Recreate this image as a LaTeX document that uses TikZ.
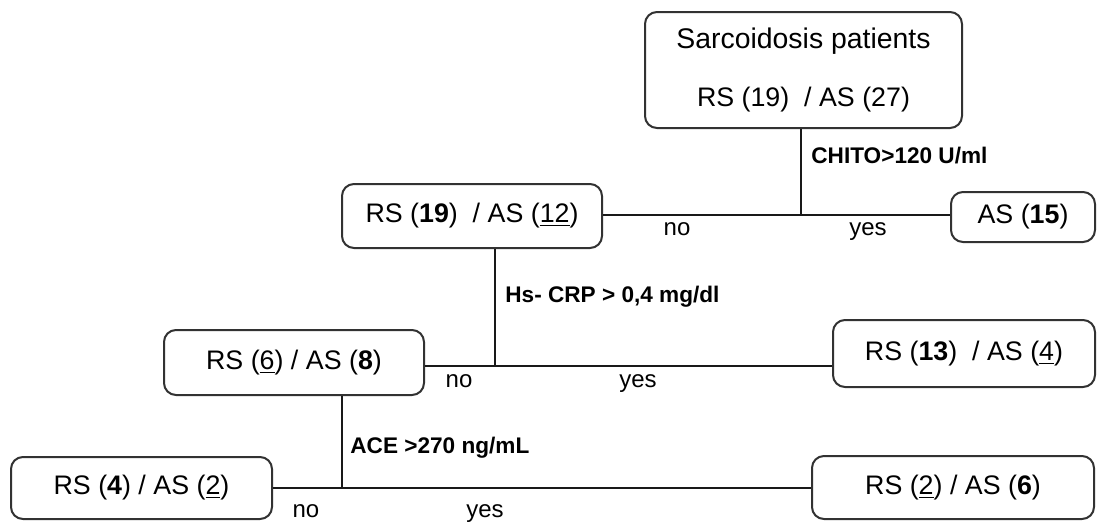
\documentclass[tikz,border=0pt]{standalone}
\usepackage{fontspec}
\setmainfont{Liberation Sans}
\usepackage{tikz}
\usetikzlibrary{positioning, calc}
\definecolor{mydark}{RGB}{50,50,50}
\definecolor{myline}{RGB}{25,25,25}
\tikzset{
  box/.style={rectangle, draw=mydark, fill=white, align=center,
    rounded corners=6pt, line width=1pt, inner sep=0pt,
    font=\fontsize{13.4}{16}\selectfont},
  cond/.style={anchor=base west, inner sep=0pt,
    font=\fontsize{11.3}{13}\selectfont\bfseries},
  answer/.style={anchor=base, inner sep=0pt,
    font=\fontsize{12}{14}\selectfont},
  line/.style={line width=1pt, color=myline}
}

\begin{document}
\begin{tikzpicture}[x=0.5pt, y=-0.5pt]
  \useasboundingbox (0,0) rectangle (1097,521);

  % Boxes
  \node[box, minimum width=158.5pt, minimum height=58pt] (root) at (803.5,70)
    {{\fontsize{14.2}{16}\selectfont Sarcoidosis patients}\\[13pt]RS (19)~ / AS (27)};
  \node[box, minimum width=130pt, minimum height=32pt] (b2) at (472,216)
    {RS (\textbf{19})~ / AS (\underline{12})};
  \node[box, minimum width=72pt, minimum height=25pt] (b3) at (1023,217)
    {AS (\textbf{15})};
  \node[box, minimum width=130pt, minimum height=32.5pt] (b4) at (294,362.5)
    {RS (\underline{6}) / AS (\textbf{8})};
  \node[box, minimum width=131pt, minimum height=33.5pt] (b5) at (964,353.5)
    {RS (\textbf{13})~ / AS (\underline{4})};
  \node[box, minimum width=130.5pt, minimum height=31pt] (b6) at (141.5,488)
    {RS (\textbf{4}) / AS (\underline{2})};
  \node[box, minimum width=141pt, minimum height=31.5pt] (b7) at (953,487.5)
    {RS (\underline{2}) / AS (\textbf{6})};

  % Branch points
  \coordinate (j1) at (801,215);
  \coordinate (j2) at (495,366);
  \coordinate (j3) at (342,488);

  % Lines
  \draw[line] (root.south -| j1) -- (j1);
  \draw[line] (b2.east |- j1) -- (b3.west |- j1);
  \draw[line] (b2.south -| j2) -- (j2);
  \draw[line] (b4.east |- j2) -- (j2 -| b5.west);
  \draw[line] (b4.south -| j3) -- (j3);
  \draw[line] (b6.east |- j3) -- (j3 -| b7.west);

  % Conditions
  \node[cond] (chito) at (811,163) {CHITO>120 U/ml};
  \node[cond] (hscrp) at (505,302) {Hs- CRP > 0,4 mg/dl};
  \node[cond] (ace) at (350,453) {ACE >270 ng/mL};

  % Answers
  \node[answer] (no1) at (677,235) {no};
  \node[answer] (yes1) at (868,235) {yes};
  \node[answer] (no2) at (459,387) {no};
  \node[answer] (yes2) at (638,387) {yes};
  \node[answer] (no3) at (306,517) {no};
  \node[answer] (yes3) at (485,517) {yes};
\end{tikzpicture}
\end{document}
